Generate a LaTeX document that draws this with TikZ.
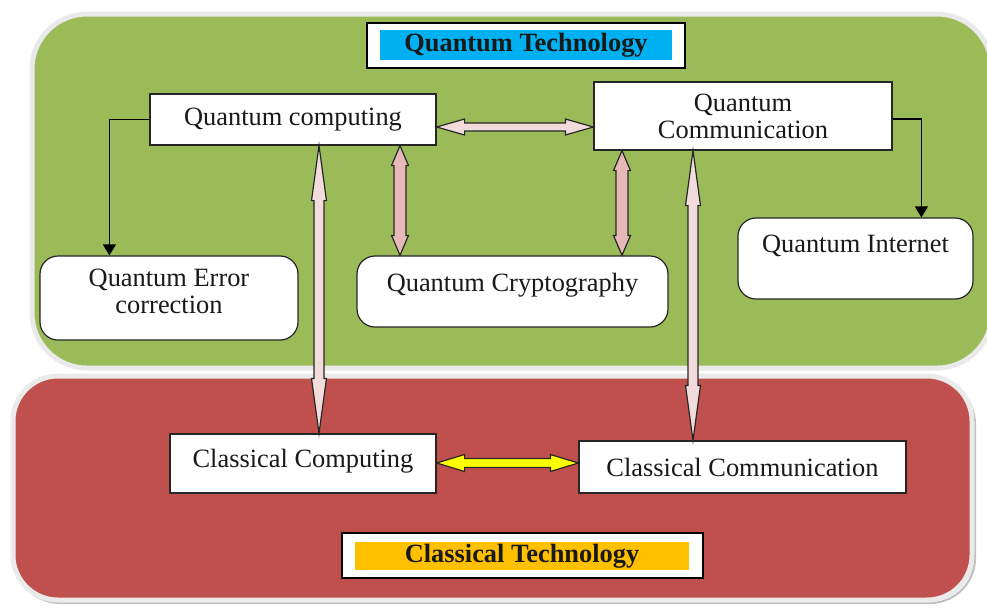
\documentclass[tikz,border=0pt]{standalone}
\usepackage{fontspec}
\setmainfont{Liberation Serif}
\usetikzlibrary{calc,arrows.meta}

\definecolor{panelgreen}{HTML}{9BBB59}
\definecolor{panelred}{HTML}{C0504D}
\definecolor{titlecyan}{HTML}{00B0F0}
\definecolor{titleorange}{HTML}{FFC000}
\definecolor{pinklight}{HTML}{F2DCDB}
\definecolor{pinkmid}{HTML}{E6B9B8}
\definecolor{rimgray}{HTML}{EAEAEA}
\definecolor{arrowyellow}{HTML}{FFFF00}

% Block arrow with a head at both ends, drawn between two points.
% #1 style, #2 start, #3 end, #4 shaft half-width, #5 head half-width, #6 head length
\newcommand\fatarrow[6]{%
  \path[fatarrowbase,#1] let \p1=#2, \p2=#3, \n1={atan2(\y2-\y1,\x2-\x1)} in
    (\p1)
    -- ($(\p1)+(\n1:#6)+(\n1+90:#5)$)
    -- ($(\p1)+(\n1:#6)+(\n1+90:#4)$)
    -- ($(\p2)+(\n1:-#6)+(\n1+90:#4)$)
    -- ($(\p2)+(\n1:-#6)+(\n1+90:#5)$)
    -- (\p2)
    -- ($(\p2)+(\n1:-#6)+(\n1-90:#5)$)
    -- ($(\p2)+(\n1:-#6)+(\n1-90:#4)$)
    -- ($(\p1)+(\n1:#6)+(\n1-90:#4)$)
    -- ($(\p1)+(\n1:#6)+(\n1-90:#5)$)
    -- cycle;%
}

\tikzset{
  txt/.style={font=\fontsize{13.2}{13.5}\selectfont, text=black!90},
  sqbox/.style={txt, draw=black!85, line width=0.6pt, fill=white, inner sep=0pt, align=center},
  rbox/.style={sqbox, rounded corners=9pt},
  panel/.style={draw=rimgray, line width=2.5pt},
  titleframe/.style={draw=black, line width=0.8pt, fill=white, inner sep=0pt},
  titlelabel/.style={txt, font=\fontsize{13.2}{13.5}\selectfont\bfseries, inner sep=0pt},
  elbow/.style={draw=black, line width=0.6pt, -{Triangle[width=6.5pt,length=5.5pt]}},
  fatarrowbase/.style={draw=black!85, line width=0.6pt, line join=miter},
}

\begin{document}
\begin{tikzpicture}[x=0.5pt, y=-0.5pt]
  \useasboundingbox (0,0) rectangle (987,607);

  % background panels
  \path[panel, fill=panelgreen, rounded corners=27.5pt] (32,14) rectangle (992,368);
  \path[draw=black!25, line width=1pt, rounded corners=22.5pt] (15,379) rectangle (975,603);
  \path[panel, fill=panelred, rounded corners=22.5pt] (13,376) rectangle (972,600);

  % section titles
  \node[titleframe, minimum width=159pt, minimum height=22.5pt] (qtframe) at (526,45.5) {};
  \node[titlelabel, fill=titlecyan, minimum width=146pt, minimum height=15pt] (qtlabel) at (526,45) {Quantum Technology};
  \node[titleframe, minimum width=180.5pt, minimum height=22.5pt] (ctframe) at (522.5,555.5) {};
  \node[titlelabel, fill=titleorange, minimum width=167pt, minimum height=14pt] (ctlabel) at (522,556) {Classical Technology};

  % quantum blocks
  \node[sqbox, minimum width=143pt, minimum height=25.5pt] (qc) at (293,119.5) {Quantum computing};
  \node[sqbox, minimum width=149pt, minimum height=34pt] (qcomm) at (743,116) {Quantum\\Communication};
  \node[rbox, minimum width=129pt, minimum height=42pt, text depth=7pt] (qerr) at (169,298) {Quantum Error\\correction};
  \node[rbox, minimum width=155.5pt, minimum height=35.5pt, text depth=9.5pt] (qcrypt) at (512.5,291.5) {Quantum Cryptography};
  \node[rbox, minimum width=117.5pt, minimum height=40.5pt, text depth=14.5pt] (qinet) at (855.5,258.5) {Quantum Internet};

  % classical blocks
  \node[sqbox, minimum width=133pt, minimum height=29.5pt, text depth=5.5pt] (ccomp) at (303,463.5) {Classical Computing};
  \node[sqbox, minimum width=163.5pt, minimum height=26pt] (ccomm) at (742.5,467) {Classical Communication};

  % elbow connectors
  \draw[elbow] (qc.west) -| ($(qerr.north west)+(70,0)$);
  \draw[elbow] (qcomm.east |- 0,119) -| ($(qinet.north west)+(184,0)$);

  % block arrows
  \fatarrow{fill=pinklight}{(qc.east |- 0,127)}{(qcomm.west |- 0,127)}{2pt}{4pt}{14pt}
  \fatarrow{fill=pinkmid}{(qc.south -| 400,0)}{(qcrypt.north -| 400,0)}{3pt}{4.25pt}{10pt}
  \fatarrow{fill=pinkmid}{(qcomm.south -| 622,0)}{(qcrypt.north -| 622,0)}{3pt}{4.25pt}{10pt}
  \fatarrow{fill=pinklight}{(qc.south -| 319,0)}{(ccomp.north -| 319,0)}{2.5pt}{3.75pt}{27.5pt}
  \fatarrow{fill=pinklight}{(qcomm.south -| 693,0)}{(ccomm.north -| 693,0)}{2.5pt}{3.75pt}{27.5pt}
  \fatarrow{fill=arrowyellow}{(ccomp.east |- 0,463)}{(ccomm.west |- 0,463)}{2.25pt}{4.25pt}{14pt}
\end{tikzpicture}
\end{document}
